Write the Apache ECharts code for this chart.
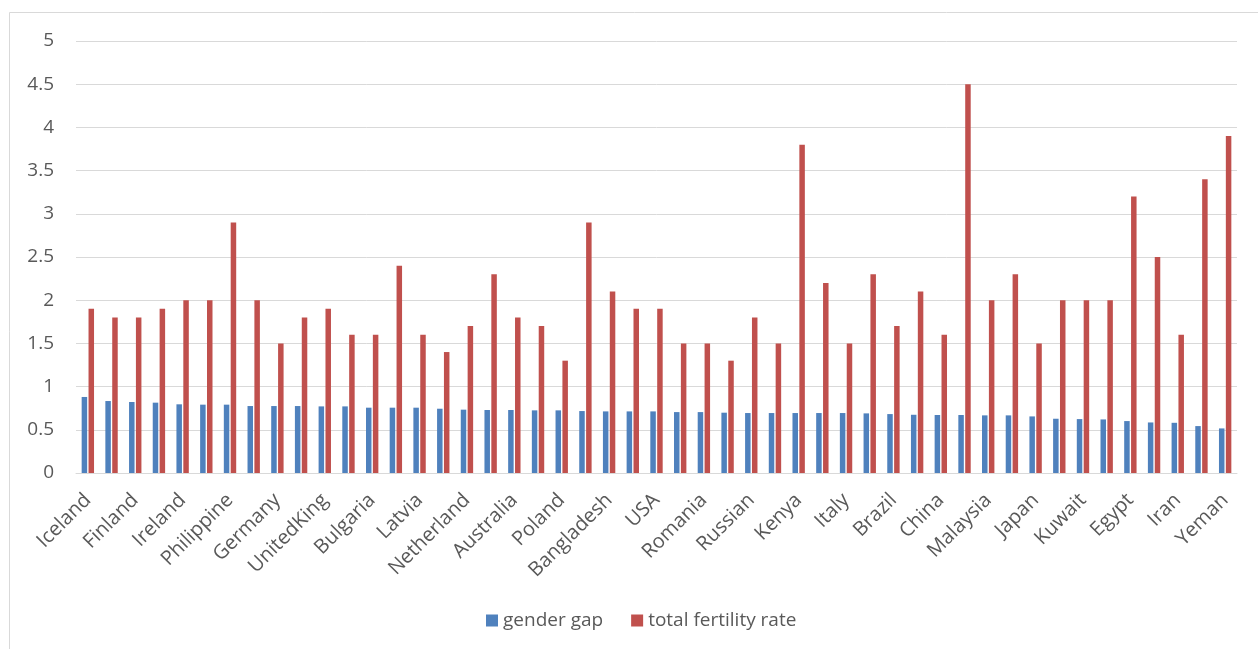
<!DOCTYPE html>
<html>
<head>
<meta charset="utf-8">
<script src="https://cdn.jsdelivr.net/npm/echarts@6/dist/echarts.min.js"></script>
<style>
  html, body { margin: 0; padding: 0; background: #ffffff; }
  #chart { width: 1258px; height: 649px; }
</style>
</head>
<body>
<div id="chart"></div>
<script>
const countries = [
  'Iceland', 'Norway', 'Finland', 'Sweden', 'Ireland', 'NewZealand', 'Philippine', 'France',
  'Germany', 'Denmark', 'UnitedKing', 'Canada', 'Bulgaria', 'SouthAfrica', 'Latvia', 'Spain',
  'Netherland', 'Argentina', 'Australia', 'Belgium', 'Poland', 'Mongolia', 'Bangladesh', 'Mexico',
  'USA', 'Thailand', 'Romania', 'Greece', 'Russian', 'Singapore', 'Kenya', 'Indonesia',
  'Italy', 'India', 'Brazil', 'Vietnam', 'China', 'Nigeria', 'Malaysia', 'Nepal',
  'Japan', 'Turkey', 'Kuwait', 'SaudiArabia', 'Egypt', 'Morocco', 'Iran', 'Pakistan', 'Yeman'
];

const genderGap = [
  0.88, 0.833, 0.822, 0.814, 0.795, 0.791, 0.791, 0.775,
  0.775, 0.775, 0.771, 0.771, 0.756, 0.756, 0.756, 0.744,
  0.733, 0.729, 0.729, 0.725, 0.725, 0.717, 0.713, 0.713,
  0.713, 0.705, 0.705, 0.698, 0.694, 0.694, 0.694, 0.694,
  0.694, 0.690, 0.682, 0.674, 0.671, 0.671, 0.667, 0.667,
  0.655, 0.628, 0.624, 0.620, 0.601, 0.585, 0.581, 0.543, 0.516
];

const fertilityRate = [
  1.9, 1.8, 1.8, 1.9, 2.0, 2.0, 2.9, 2.0,
  1.5, 1.8, 1.9, 1.6, 1.6, 2.4, 1.6, 1.4,
  1.7, 2.3, 1.8, 1.7, 1.3, 2.9, 2.1, 1.9,
  1.9, 1.5, 1.5, 1.3, 1.8, 1.5, 3.8, 2.2,
  1.5, 2.3, 1.7, 2.1, 1.6, 4.5, 2.0, 2.3,
  1.5, 2.0, 2.0, 2.0, 3.2, 2.5, 1.6, 3.4, 3.9
];

const seriesNames = ['gender gap', 'total fertility rate'];
const yTicks = { min: 0, max: 5, interval: 0.5 };

const chart = echarts.init(document.getElementById('chart'), null, { renderer: 'canvas' });
const FONT = '"Open Sans", "Noto Sans", sans-serif';
const TXT = '#595959';

chart.setOption({
  backgroundColor: '#ffffff',
  animation: false,
  graphic: [{
    type: 'rect',
    silent: true,
    shape: { x: 9.5, y: 12.5, width: 1400, height: 800 },
    style: { fill: 'none', stroke: '#d9d9d9', lineWidth: 1 }
  }],
  grid: { left: 76, right: 21, top: 41, bottom: 176, containLabel: false },
  legend: {
    data: seriesNames,
    left: 481,
    top: 606,
    icon: 'rect',
    itemWidth: 12,
    itemHeight: 12,
    itemGap: 28,
    textStyle: { fontFamily: FONT, fontSize: 19, color: TXT, padding: [0, 0, 0, 0] }
  },
  xAxis: {
    type: 'category',
    data: countries,
    axisLine: { lineStyle: { color: '#d9d9d9', width: 1 } },
    axisTick: { show: false },
    axisLabel: {
      interval: 1,
      rotate: 45,
      margin: 24,
      fontFamily: FONT,
      fontSize: 20,
      color: TXT
    }
  },
  yAxis: {
    type: 'value',
    min: yTicks.min,
    max: yTicks.max,
    interval: yTicks.interval,
    axisLine: { show: false },
    axisTick: { show: false },
    splitLine: { lineStyle: { color: '#d9d9d9', width: 1 } },
    axisLabel: {
      margin: 22,
      fontFamily: FONT,
      fontSize: 19,
      color: TXT
    }
  },
  series: [
    {
      name: seriesNames[0],
      type: 'bar',
      data: genderGap,
      barWidth: 5.5,
      barGap: '25%',
      itemStyle: { color: '#4F81BD' }
    },
    {
      name: seriesNames[1],
      type: 'bar',
      data: fertilityRate,
      barWidth: 5.5,
      itemStyle: { color: '#C0504D' }
    }
  ]
});
</script>
</body>
</html>
